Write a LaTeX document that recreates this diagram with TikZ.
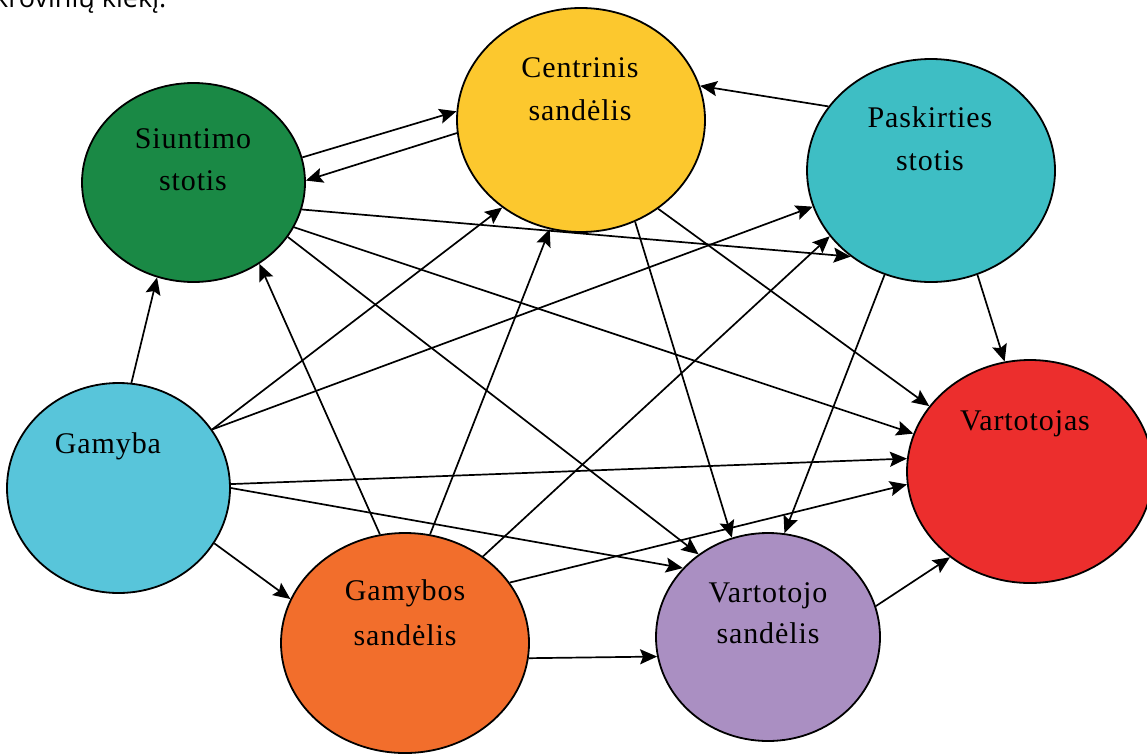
\documentclass[tikz,border=0pt]{standalone}
\usepackage{fontspec}
\setmainfont{Liberation Serif}
\newfontfamily\topfont{Open Sans}
\newfontfamily\lblfont[LetterSpace=3]{Liberation Serif}
\usetikzlibrary{arrows.meta,shapes.geometric}
\definecolor{cS}{RGB}{26,137,69}
\definecolor{cC}{RGB}{252,200,46}
\definecolor{cP}{RGB}{62,190,196}
\definecolor{cG}{RGB}{88,197,218}
\definecolor{cV}{RGB}{236,46,45}
\definecolor{cGS}{RGB}{242,110,44}
\definecolor{cVS}{RGB}{170,143,194}
\begin{document}
\begin{tikzpicture}[x=1pt,y=-1pt,
  bubble/.style={ellipse, draw=black, line width=1.8pt, inner sep=0pt},
  lbl/.style={anchor=base, font=\fontsize{30}{36}\selectfont\lblfont, inner sep=0pt},
  con/.style={line width=1.7pt, -{Stealth[length=17pt,width=15pt,inset=3pt]}}]
\useasboundingbox[fill=white] (0,0) rectangle (1147,753);

\node[anchor=base west, inner sep=0pt, font=\fontsize{27}{30}\selectfont\topfont] (cap) at (-6,7) {krovinių kiekį.};

\node[bubble, fill=cS,  minimum width=223pt, minimum height=199pt] (S)  at (193.5,182.5) {};
\node[bubble, fill=cC,  minimum width=248pt, minimum height=224pt] (C)  at (581,120) {};
\node[bubble, fill=cP,  minimum width=248pt, minimum height=223pt] (P)  at (931,170.5) {};
\node[bubble, fill=cG,  minimum width=223pt, minimum height=210pt] (G)  at (118.5,488) {};
\node[bubble, fill=cGS, minimum width=248pt, minimum height=220pt] (GS) at (405,643) {};
\node[bubble, fill=cVS, minimum width=224pt, minimum height=208pt] (VS) at (768,637) {};
\node[bubble, fill=cV,  minimum width=246pt, minimum height=223pt] (V)  at (1030,471.5) {};

\node[lbl] (S1) at (193,148) {Siuntimo};
\node[lbl] (S2) at (193,190) {stotis};
\node[lbl] (C1) at (580,77) {Centrinis};
\node[lbl] (C2) at (580,120) {sandėlis};
\node[lbl] (P1) at (930,127) {Paskirties};
\node[lbl] (P2) at (930,170) {stotis};
\node[lbl] (G1) at (108,453) {Gamyba};
\node[lbl] (GS1) at (405,600) {Gamybos};
\node[lbl] (GS2) at (405,645) {sandėlis};
\node[lbl] (VS1) at (768,602) {Vartotojo};
\node[lbl] (VS2) at (768,643) {sandėlis};
\node[lbl] (V1) at (1025,430) {Vartotojas};

\draw[con] (S.13) -- (C.176);
\draw[con] (C.186) -- (S.1);
\draw[con] (P.148) -- (C.16);
\draw[con] (G.83) -- (S.249);
\draw[con] (S.346) -- (P.227);
\draw[con] (S.336) -- (V.162);
\draw[con] (S.330) -- (VS.130);
\draw[con] (C.311) -- (V.147);
\draw[con] (C.298) -- (VS.110);
\draw[con] (P.294) -- (V.103);
\draw[con] (P.246) -- (VS.81);
\draw[con] (G.32) -- (C.228);
\draw[con] (G.32) -- (P.197);
\draw[con] (G.2) -- (V.174);
\draw[con] (G.0) -- (VS.141);
\draw[con] (G.330) -- (GS.159);
\draw[con] (GS.103) -- (S.309);
\draw[con] (GS.77) -- (C.254);
\draw[con] (GS.48) -- (P.213);
\draw[con] (GS.30) -- (V.186);
\draw[con] (GS.353) -- (VS.190);
\draw[con] (VS.16) -- (V.227);
\end{tikzpicture}
\end{document}
